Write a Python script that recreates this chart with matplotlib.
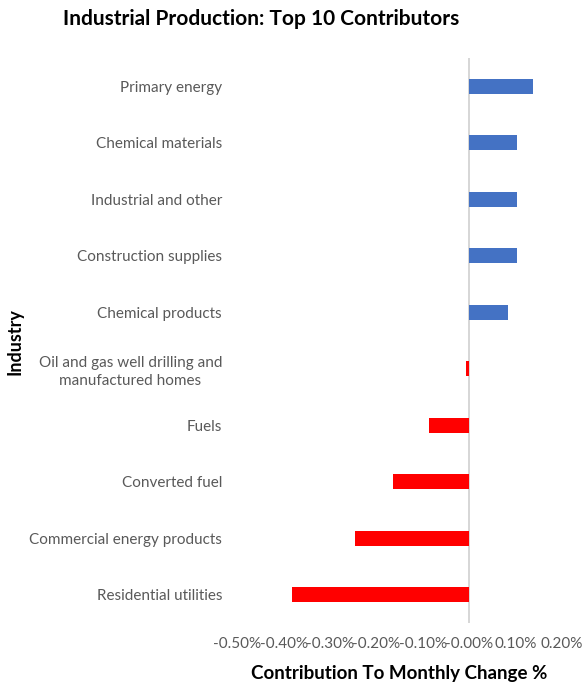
import numpy as np
import matplotlib
matplotlib.use('Agg')
import matplotlib.pyplot as plt
from matplotlib.ticker import FuncFormatter

plt.rcParams['font.family'] = ['Lato', 'DejaVu Sans']

# contributions to the monthly change, in percent
industries = ['Primary energy', 'Chemical materials', 'Industrial and other',
              'Construction supplies', 'Chemical products',
              'Oil and gas well drilling and\nmanufactured homes',
              'Fuels', 'Converted fuel', 'Commercial energy products',
              'Residential utilities']
contribution = [0.138, 0.104, 0.102, 0.102, 0.083,
                -0.007, -0.087, -0.165, -0.246, -0.383]

BLUE = '#4472C4'
RED = '#FF0000'
GREY = '#595959'

fig = plt.figure(figsize=(5.83, 6.83), dpi=100)
ax = fig.add_axes([0.407, 0.088, 0.557, 0.827])

y = np.arange(len(industries))
colors = [BLUE if v >= 0 else RED for v in contribution]
ax.barh(y, contribution, height=0.27, color=colors, zorder=2)

ax.set_ylim(len(industries) - 0.5, -0.5)
ax.set_xlim(-0.5, 0.2)
ax.set_xticks(np.arange(-0.5, 0.21, 0.1))
ax.xaxis.set_major_formatter(FuncFormatter(lambda v, p: '{:.2f}%'.format(v + 0.0)))

ax.set_yticks(y)
ax.set_yticklabels(industries, multialignment='center', linespacing=1.35)

ax.tick_params(axis='both', length=0, colors=GREY, labelsize=11)
ax.tick_params(axis='y', pad=11)
ax.tick_params(axis='x', pad=10)

for s in ax.spines.values():
    s.set_visible(False)
ax.axvline(0, color='#D0D0D0', lw=1.2, zorder=1)

ax.set_xlabel('Contribution To Monthly Change %', fontsize=13.5, fontweight='bold',
              color='black', labelpad=10)
fig.text(15 / 583, 0.5, 'Industry', rotation=90, ha='center', va='center',
         fontsize=13, fontweight='bold')

fig.text(0.448, 0.972, 'Industrial Production: Top 10 Contributors',
         ha='center', va='center', fontsize=15, fontweight='bold')

fig.savefig('out.png', dpi=100, facecolor='white')
